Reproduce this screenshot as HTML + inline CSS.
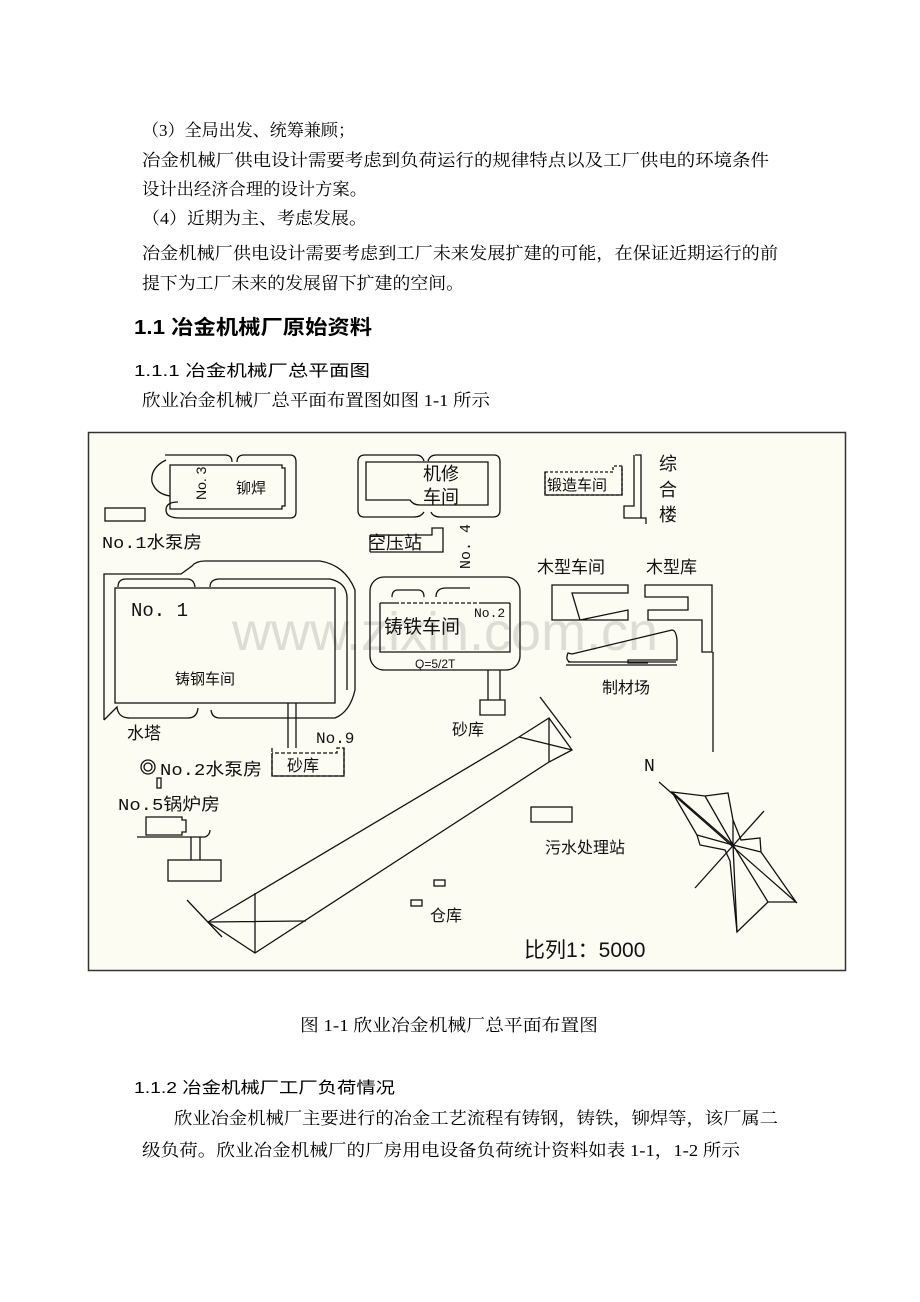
<!DOCTYPE html>
<html><head><meta charset="utf-8"><style>
body{margin:0;background:#fff;width:920px;height:1302px;overflow:hidden}
svg{display:block}
.t{font-family:"Liberation Serif","Noto Serif CJK SC",serif;font-size:17px;fill:#000}
.s{font-family:"Liberation Sans","Noto Sans CJK SC",sans-serif;fill:#000}
.d{font-family:"Liberation Sans","Noto Sans CJK SC",sans-serif;fill:#111}
.m{font-family:"Liberation Mono","Noto Sans CJK SC",monospace;fill:#111}
</style></head><body>
<svg width="920" height="1302" viewBox="0 0 920 1302" xmlns="http://www.w3.org/2000/svg">
<text class="t" x="142" y="136" textLength="213" lengthAdjust="spacingAndGlyphs">（3）全局出发、统筹兼顾；</text>
<text class="t" x="142" y="166" textLength="627" lengthAdjust="spacingAndGlyphs">冶金机械厂供电设计需要考虑到负荷运行的规律特点以及工厂供电的环境条件</text>
<text class="t" x="142" y="195" textLength="225" lengthAdjust="spacingAndGlyphs">设计出经济合理的设计方案。</text>
<text class="t" x="142" y="224" textLength="225" lengthAdjust="spacingAndGlyphs">（4）近期为主、考虑发展。</text>
<text class="t" x="142" y="259" textLength="636" lengthAdjust="spacingAndGlyphs">冶金机械厂供电设计需要考虑到工厂未来发展扩建的可能，在保证近期运行的前</text>
<text class="t" x="142" y="289" textLength="322" lengthAdjust="spacingAndGlyphs">提下为工厂未来的发展留下扩建的空间。</text>
<text class="s" x="134" y="334" font-size="20" font-weight="bold" textLength="238" lengthAdjust="spacingAndGlyphs">1.1 冶金机械厂原始资料</text>
<text class="s" x="134" y="376" font-size="16" textLength="236" lengthAdjust="spacingAndGlyphs">1.1.1 冶金机械厂总平面图</text>
<text class="t" x="142" y="406" textLength="348" lengthAdjust="spacingAndGlyphs">欣业冶金机械厂总平面布置图如图 1-1 所示</text>

<rect x="88.5" y="432.5" width="757" height="538" fill="#fdfcf2" stroke="#333" stroke-width="1.5"/>
<text x="232" y="650" font-family="Liberation Sans,sans-serif" font-size="54" fill="#ddddd6">www.zixin.com.cn</text>
<g fill="none" stroke="#111" stroke-width="1.3">
<path d="M170 465 H282 V468 H285 V506 H282 V509 H170 Z"/>
<path d="M165 455 H225 Q232 455 232 462 M237 462 Q237 455 244 455 H290 Q296 455 296 462 V512 Q296 518 290 518 H180 Q166 518 166 510 Q166 502 178 502 M166 460 Q150 468 152 482 Q156 494 170 496"/>
<rect x="105" y="508" width="40" height="13"/>
<path d="M366 462 H488 V505 H420 Q413 505 410 500 L366 500 Z"/>
<path d="M365 455 H416 Q422 455 424 461 M428 461 Q430 455 436 455 H494 Q500 455 500 462 V510 Q500 517 493 517 H440 Q433 517 431 512 M424 512 Q421 517 414 517 H364 Q358 517 358 510 V462 Q358 455 365 455"/>
<path d="M370 552 H443 V528 H432 V535 H370" />
<path d="M370 535 V552"/>
<path d="M545 472 H613 V466 H622 V495 H545 Z" stroke-dasharray="3 2"/>
<path d="M545 472 V495 H622 V466"/>
<path d="M635 455 H641 V518 H646 M634 455 V506 H624 V518 H646 V524"/>
<rect x="115" y="588" width="220" height="115"/>
<path d="M104 720 V574 H181 L192 566 Q196 561 205 561 H320 Q345 565 355 590 V690 Q350 712 335 718 H220 Q212 718 211 710 M198 708 Q197 718 188 718 H130 Q118 718 117 707 L104 720"/>
<path d="M118 587 Q118 579 126 579 H187 Q194 579 195 587 M210 587 Q210 579 220 579 H330 Q348 583 347 600 V690"/>
<!-- 铸铁 -->
<path d="M380 603 V652 H510 V603 M380 603 H395 M480 603 H510" stroke-dasharray="none"/>
<path d="M395 603 H480" stroke-dasharray="4 2"/>
<rect x="370" y="577" width="150" height="93" rx="14"/>
<path d="M392 597 Q392 590 398 590 H418 Q424 590 424 597 M436 597 Q436 588 446 588 H470"/>
<path d="M488 670 V700 H500 V670 M480 700 H505 V715 H480 Z"/>
<path d="M552 585 H628 V593 H572 L580 620 L628 610 V620 H552 Z"/>
<path d="M645 585 H712 V652 H702 V620 H648 V610 H688 V597 H645 Z"/>
<path d="M572 654 L672 630 Q676 630 677 640 V660 H628 V663 H648 M570 662 Q565 660 568 653 L572 654 M568 662 H676 M566 665 H677"/>
<path d="M713 652 V752"/>
<path d="M288 703 V748 M296 703 V748"/>
<path d="M272 748 V776 H344 V748 H337 V753 H272" stroke-dasharray="4 2"/>
<path d="M272 753 V776 H344 V748"/>
<rect x="157" y="778" width="4" height="10"/>
<path d="M146 817 H182 V820 H186 V832 H182 V835 H146 Z"/>
<path d="M137 837 H205 Q210 835 210 830 M191 837 V860 M200 837 V860"/>
<rect x="168" y="860" width="53" height="21"/>
<circle cx="148" cy="767" r="7"/><circle cx="148" cy="767" r="4"/>
<path d="M208 922 L519 737 L549 718 L572 750 L549 762 L255 953 L208 922"/>
<path d="M519 737 L572 750 M549 718 V762 M208 922 L306 921 M255 893 V953 M187 900 L222 937 M540 697 L571 738"/>
<rect x="531" y="807" width="41" height="15"/>
<rect x="434" y="880" width="11" height="6"/>
<rect x="411" y="900" width="11" height="6"/>
<path d="M659 782 L797 903 M695 888 L764 811"/>
<path d="M672 792 L705 796 L728 793 L733 820 L741 840 L760 838 L761 852 L796 902 L768 902 L737 932 L730 861 L725 850 L700 845 L697 835 Z"/>
<path d="M672 792 L733 845 L705 796 M733 845 L737 932 M733 845 L768 902 M697 835 L733 845 L761 852 M733 820 L733 845"/>
</g>
<text class="d" font-size="14" transform="translate(206 500) rotate(-90)">No. 3</text>
<text class="d" font-size="15" x="236" y="493">铆焊</text>
<text class="m" font-size="17" x="102" y="548" textLength="100" lengthAdjust="spacingAndGlyphs">No.1水泵房</text>
<text class="d" font-size="18" x="423" y="480">机修</text>
<text class="d" font-size="18" x="423" y="503">车间</text>
<text class="d" font-size="18" x="368" y="549">空压站</text>
<text class="m" font-size="15" transform="translate(470 569) rotate(-90)">No. 4</text>
<text class="d" font-size="15" x="547" y="490">锻造车间</text>
<text class="d" font-size="18" x="659" y="470">综</text>
<text class="d" font-size="18" x="659" y="496">合</text>
<text class="d" font-size="18" x="659" y="521">楼</text>
<text class="m" font-size="19" x="131" y="616" fill="#335">No. 1</text>
<text class="d" font-size="15" x="175" y="684">铸钢车间</text>
<text class="d" font-size="19" x="384" y="633">铸铁车间</text>
<text class="m" font-size="13" x="474" y="617">No.2</text>
<text class="d" font-size="12" x="415" y="668">Q=5/2T</text>
<text class="d" font-size="16" x="452" y="735">砂库</text>
<text class="d" font-size="17" x="537" y="573">木型车间</text>
<text class="d" font-size="17" x="646" y="573">木型库</text>
<text class="d" font-size="16" x="602" y="693">制材场</text>
<text class="d" font-size="17" x="127" y="739">水塔</text>
<text class="m" font-size="16" x="316" y="743">No.9</text>
<text class="d" font-size="16" x="287" y="771">砂库</text>
<text class="m" font-size="17" x="160" y="775" textLength="102" lengthAdjust="spacingAndGlyphs">No.2水泵房</text>
<text class="m" font-size="17" x="118" y="810" textLength="102" lengthAdjust="spacingAndGlyphs">No.5锅炉房</text>
<text class="m" font-size="18" x="644" y="771">N</text>
<text class="d" font-size="16" x="545" y="853">污水处理站</text>
<text class="d" font-size="16" x="430" y="921">仓库</text>
<text class="d" font-size="21" x="524" y="957">比列1：5000</text>

<text class="t" x="300" y="1031" textLength="298" lengthAdjust="spacingAndGlyphs">图 1-1 欣业冶金机械厂总平面布置图</text>
<text class="s" x="134" y="1093" font-size="16" textLength="261" lengthAdjust="spacingAndGlyphs">1.1.2 冶金机械厂工厂负荷情况</text>
<text class="t" x="174" y="1124" textLength="604" lengthAdjust="spacingAndGlyphs">欣业冶金机械厂主要进行的冶金工艺流程有铸钢，铸铁，铆焊等，该厂属二</text>
<text class="t" x="142" y="1156" textLength="598" lengthAdjust="spacingAndGlyphs">级负荷。欣业冶金机械厂的厂房用电设备负荷统计资料如表 1-1，1-2 所示</text>
</svg>
</body></html>
